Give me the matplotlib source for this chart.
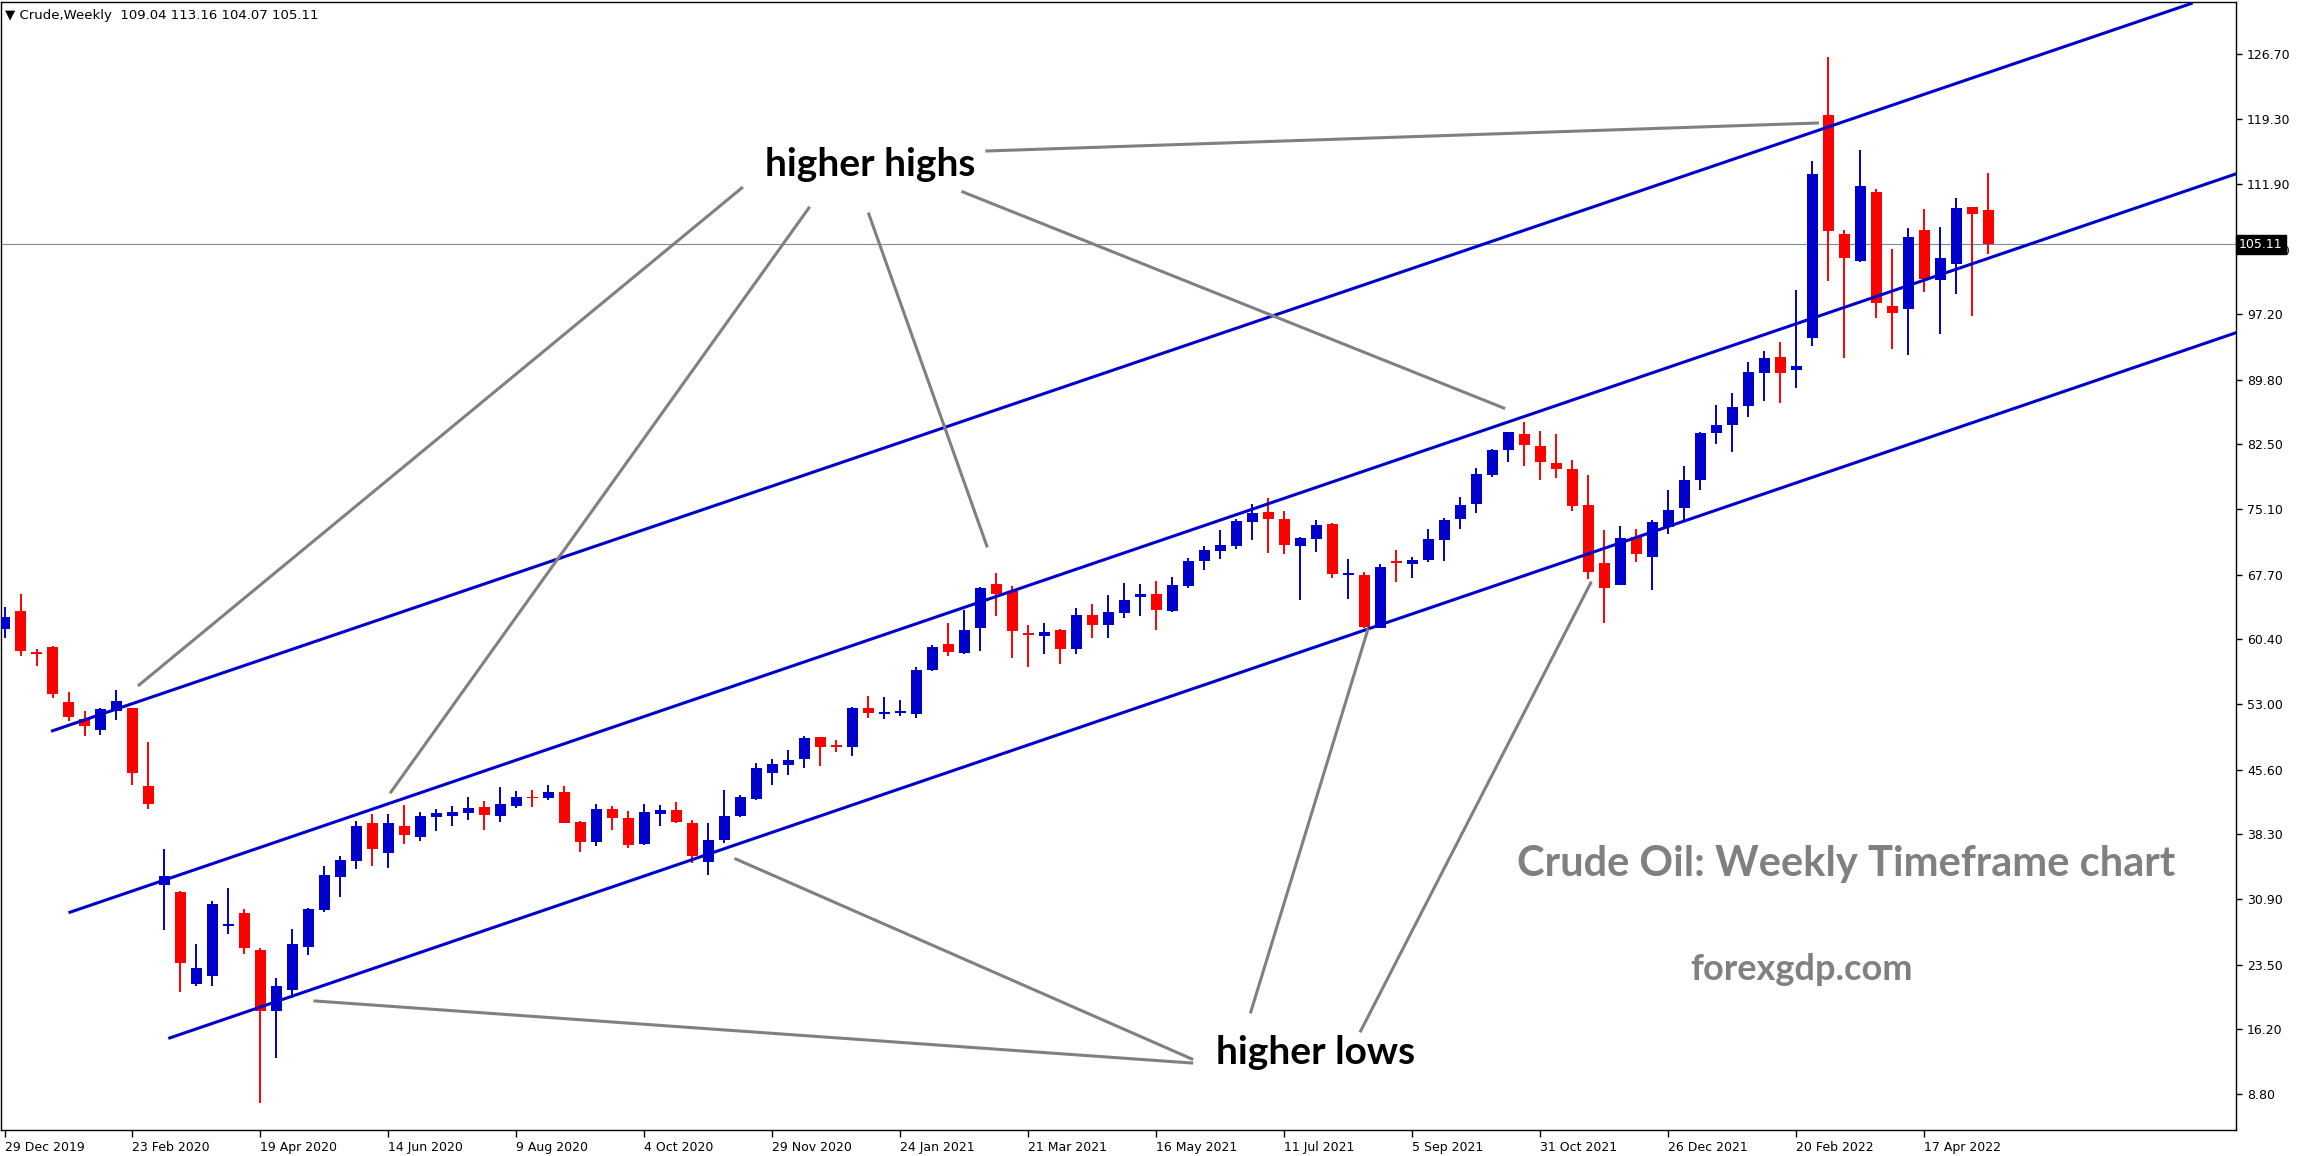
import matplotlib
matplotlib.use('Agg')
import matplotlib.pyplot as plt

# Weekly OHLC values for Crude (29 Dec 2019 .. 15 May 2022)
opens = [61.51, 63.58, 58.85, 59.48, 53.28, 51.29, 50.12, 52.22, 52.57, 43.76,
         32.56, 31.78, 21.36, 22.22, 27.90, 29.36, 25.22, 18.20, 20.58, 25.53,
         29.75, 33.42, 35.29, 39.54, 36.19, 39.23, 38.00, 40.27, 40.39, 40.72,
         41.37, 40.38, 41.52, 42.50, 42.42, 43.07, 39.67, 37.44, 41.14, 40.12,
         37.17, 40.61, 41.03, 39.55, 35.17, 37.63, 40.35, 42.31, 45.26, 46.16,
         46.76, 49.26, 48.25, 48.20, 52.54, 51.90, 52.05, 51.94, 56.88, 59.83,
         58.85, 61.68, 66.63, 65.84, 61.00, 60.77, 61.42, 59.30, 63.12, 62.02,
         63.38, 65.19, 65.50, 63.61, 66.44, 69.27, 70.41, 70.97, 73.69, 74.79,
         73.99, 70.97, 71.77, 73.43, 67.70, 67.65, 61.68, 69.10, 68.93, 69.39,
         71.65, 74.03, 75.73, 78.98, 81.81, 83.62, 82.26, 80.34, 79.66, 75.58,
         69.01, 66.55, 71.92, 69.73, 73.13, 75.28, 78.45, 83.78, 84.68, 86.84,
         90.58, 92.35, 90.88, 94.54, 119.77, 106.29, 103.27, 111.05, 98.13, 97.83,
         106.74, 101.11, 102.93, 109.35, 109.04]
highs = [63.97, 65.53, 59.29, 59.60, 54.41, 52.26, 52.57, 54.64, 52.60, 48.75,
         36.65, 31.86, 25.85, 30.72, 32.17, 29.83, 25.34, 21.94, 27.56, 29.90,
         34.70, 35.87, 39.77, 40.56, 40.56, 41.61, 40.80, 41.18, 41.48, 42.50,
         42.05, 43.63, 43.18, 43.29, 43.86, 43.75, 39.78, 41.71, 41.48, 40.91,
         41.71, 41.59, 41.93, 39.89, 39.55, 43.29, 42.73, 46.35, 46.80, 47.82,
         49.41, 49.30, 48.95, 52.65, 53.94, 53.79, 53.45, 57.22, 59.68, 62.21,
         63.68, 66.29, 67.87, 66.40, 61.98, 62.21, 61.50, 63.91, 64.36, 65.38,
         66.74, 66.63, 66.97, 67.42, 69.58, 70.94, 72.75, 74.00, 75.70, 76.37,
         74.90, 71.96, 73.88, 73.54, 69.46, 67.99, 68.90, 70.48, 69.69, 72.86,
         74.11, 76.49, 79.77, 81.92, 83.90, 84.98, 83.96, 83.62, 80.68, 78.98,
         72.75, 73.20, 72.86, 73.88, 77.28, 80.00, 83.80, 86.91, 88.27, 91.78,
         93.03, 94.05, 99.94, 114.56, 126.38, 106.74, 115.81, 111.39, 104.59, 106.97,
         109.12, 107.08, 110.37, 109.40, 113.16]
lows = [60.46, 58.51, 57.33, 53.74, 51.09, 49.45, 49.53, 51.17, 43.91, 41.14,
        27.48, 20.46, 21.05, 21.05, 27.02, 24.75, 7.86, 12.97, 19.68, 24.56,
        29.51, 31.19, 34.39, 34.63, 34.51, 37.12, 37.55, 38.68, 39.25, 39.93,
        38.80, 39.70, 41.29, 41.40, 42.20, 39.50, 36.30, 36.98, 38.80, 36.76,
        37.10, 39.25, 39.59, 35.06, 33.70, 37.33, 40.27, 42.20, 43.90, 45.03,
        45.82, 46.04, 47.55, 47.18, 51.48, 51.37, 51.67, 51.48, 56.77, 58.51,
        58.73, 59.07, 63.04, 58.28, 57.26, 58.73, 57.60, 58.73, 60.55, 60.55,
        62.81, 63.04, 61.45, 63.50, 66.21, 68.25, 69.50, 70.63, 71.65, 70.18,
        70.07, 64.85, 70.29, 67.35, 64.97, 61.61, 61.60, 66.90, 67.35, 69.16,
        69.27, 72.86, 74.71, 78.79, 80.45, 80.03, 78.41, 78.64, 74.90, 67.20,
        62.25, 66.50, 69.16, 65.99, 72.33, 73.88, 77.32, 82.53, 81.62, 85.59,
        87.40, 87.18, 88.88, 93.63, 101.00, 92.28, 103.15, 96.81, 93.30, 92.62,
        99.75, 95.00, 99.53, 97.03, 104.07]
closes = [62.92, 59.09, 58.75, 54.21, 51.60, 50.58, 52.46, 53.39, 45.24, 41.65,
          33.53, 23.66, 23.11, 30.37, 28.05, 25.42, 18.20, 21.09, 25.85, 29.83,
          33.65, 35.37, 39.23, 36.65, 39.54, 38.14, 40.35, 40.69, 40.80, 41.25,
          40.50, 41.71, 42.50, 42.35, 43.07, 39.59, 37.44, 41.14, 40.16, 37.10,
          40.80, 41.03, 39.70, 35.85, 37.63, 40.35, 42.50, 45.78, 46.24, 46.69,
          49.14, 48.20, 48.15, 52.54, 52.05, 51.98, 52.13, 56.88, 59.49, 58.96,
          61.42, 66.17, 65.53, 61.34, 60.90, 61.19, 59.30, 63.12, 62.02, 63.46,
          64.82, 65.50, 63.72, 66.52, 69.24, 70.48, 71.05, 73.77, 74.67, 74.03,
          71.09, 71.84, 73.31, 67.80, 67.75, 61.80, 68.56, 69.00, 69.35, 71.73,
          73.88, 75.58, 79.09, 81.81, 83.85, 82.38, 80.45, 79.66, 75.50, 68.03,
          66.21, 71.84, 70.07, 73.65, 75.01, 78.41, 83.74, 84.65, 86.69, 90.65,
          92.24, 90.58, 91.33, 113.09, 106.63, 103.61, 111.73, 98.51, 97.37, 105.95,
          101.23, 103.57, 109.23, 108.59, 105.11]

date_labels = ['29 Dec 2019', '23 Feb 2020', '19 Apr 2020', '14 Jun 2020',
               '9 Aug 2020', '4 Oct 2020', '29 Nov 2020', '24 Jan 2021',
               '21 Mar 2021', '16 May 2021', '11 Jul 2021', '5 Sep 2021',
               '31 Oct 2021', '26 Dec 2021', '20 Feb 2022', '17 Apr 2022']
price_ticks = [126.70, 119.30, 111.90, 104.50, 97.20, 89.80, 82.50, 75.10,
               67.70, 60.40, 53.00, 45.60, 38.30, 30.90, 23.50, 16.20, 8.80]
last_price = 105.11

# drawn objects, as (week index, price) pairs
channel_lines = [[(3.0, 50.0), (136.7, 132.4)],
                 [(4.09, 29.44), (139.5, 113.1)],
                 [(10.33, 15.2), (139.5, 95.1)]]
highs_arrows = [[(46.09, 111.5), (8.41, 55.19)],
                [(50.28, 109.23), (24.16, 43.07)],
                [(54.03, 108.55), (61.41, 70.94)],
                [(59.91, 111.05), (93.72, 86.57)],
                [(61.41, 115.69), (113.33, 118.86)]]
lows_arrows = [[(74.22, 12.36), (19.41, 19.39)],
               [(74.22, 12.82), (45.72, 35.47)],
               [(77.91, 18.14), (85.22, 61.42)],
               [(84.78, 15.99), (99.16, 66.75)]]

W, H = 2300, 1156
fig = plt.figure(figsize=(W / 100, H / 100), dpi=100)
ax = fig.add_axes([1 / W, 26 / H, 2235 / W, 1128 / H])

blue = '#0000cc'
red = '#ff0000'

# Candles
weeks = list(range(len(opens)))
for i in weeks:
    up = closes[i] >= opens[i]
    col = blue if up else red
    ax.vlines(i, lows[i], highs[i], color=col, linewidth=1.4, zorder=3)
    bottom = min(opens[i], closes[i])
    height = max(abs(closes[i] - opens[i]), 0.2)
    ax.bar(i, height, bottom=bottom, width=0.69, color=col, linewidth=0, zorder=4)

# last price line
ax.axhline(last_price, color='#7b8b9b', linewidth=0.8, zorder=1)

# channel
for (x0, y0), (x1, y1) in channel_lines:
    ax.plot([x0, x1], [y0, y1], color=blue, linewidth=2.2, zorder=5)

# annotation lines
for (x0, y0), (x1, y1) in highs_arrows + lows_arrows:
    ax.plot([x0, x1], [y0, y1], color='#808080', linewidth=2.2, zorder=6)

ax.set_xlim(-0.22, 139.5)
ax.set_ylim(4.77, 132.57)

ax.yaxis.tick_right()
ax.set_yticks(price_ticks)
ax.set_yticklabels(['%.2f' % v for v in price_ticks])
ax.tick_params(axis='y', direction='out', length=4, width=1, pad=4, labelsize=9)

ax.set_xticks(range(0, 121, 8))
ax.set_xticklabels(date_labels)
ax.tick_params(axis='x', direction='out', length=5, width=1, pad=3, labelsize=9)
for lbl in ax.get_xticklabels():
    lbl.set_ha('left')

for s in ax.spines.values():
    s.set_color('black')
    s.set_linewidth(1)

# price label on the right axis (covers the 104.50 label, as in MT4)
ax.annotate('%.2f' % last_price, xy=(1.0, last_price),
            xycoords=('axes fraction', 'data'), xytext=(2, 0),
            textcoords='offset points', va='center', ha='left',
            fontsize=9, color='white', zorder=10,
            bbox=dict(boxstyle='square,pad=0.25', fc='black', ec='black'))

# header
fig.text(5 / W, 1 - 15 / H, '\u25bc Crude,Weekly  109.04 113.16 104.07 105.11',
         fontsize=9.5, va='center', ha='left', color='black')

# labels
fig.text(870 / W, 1 - 165 / H, 'higher highs', fontsize=28, fontweight='bold',
         family='Lato', ha='center', va='center', color='black')
fig.text(1316 / W, 1 - 1052 / H, 'higher lows', fontsize=28, fontweight='bold',
         family='Lato', ha='center', va='center', color='black')
fig.text(1846 / W, 1 - 864 / H, 'Crude Oil: Weekly Timeframe chart', fontsize=30,
         fontweight='bold', family='Lato', ha='center', va='center', color='#808080')
fig.text(1801 / W, 1 - 970 / H, 'forexgdp.com', fontsize=26, fontweight='bold',
         family='Lato', ha='center', va='center', color='#808080')

fig.savefig('out.png', dpi=100)
